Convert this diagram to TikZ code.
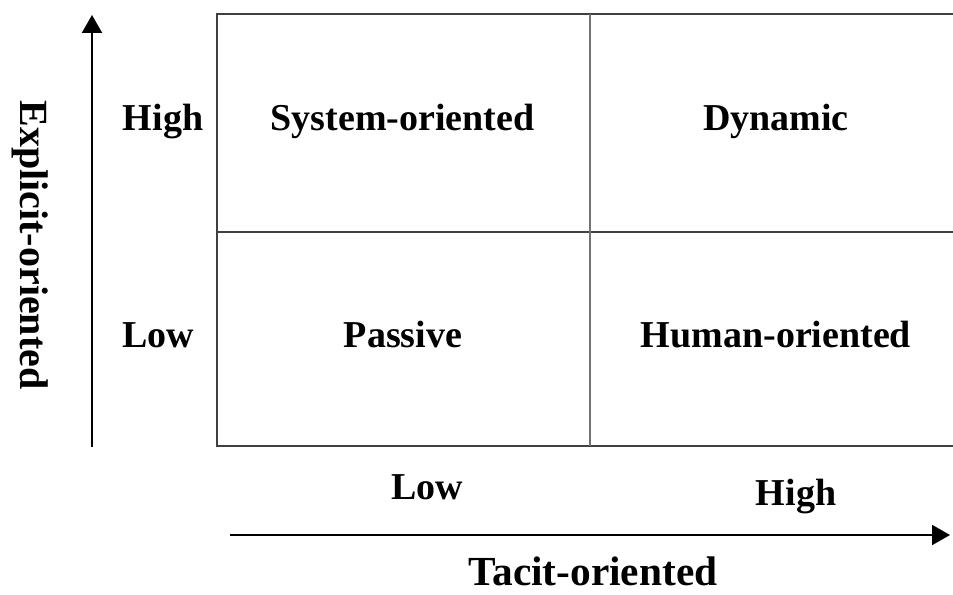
\documentclass[tikz,border=0pt]{standalone}
\usepackage{fontspec}
\setmainfont{Liberation Serif}
\usetikzlibrary{arrows.meta}
\tikzset{
  lbl/.style={font=\fontsize{28.5}{30}\selectfont\bfseries, anchor=base, inner sep=0pt},
  axislbl/.style={font=\fontsize{31}{33}\selectfont\bfseries, inner sep=0pt},
  axisarrow/.style={line width=1.5pt, -{Triangle[length=13.5pt,width=15pt]}},
  gridline/.style={line width=1.1pt, draw=black!75}
}
\begin{document}
\begin{tikzpicture}[x=0.75pt,y=0.75pt,yscale=-1,xscale=1]
\useasboundingbox (0,0) rectangle (953,595);

%Shape: Grid (open at right)
\draw [gridline] (953,14) -- (217,14) -- (217,446) -- (953,446) ;
\draw [gridline] (217,232) -- (953,232) ;
\draw [gridline, draw=black!55, line width=1.4pt] (590,14) -- (590,446) ;

%Axis ends
\coordinate (ybot) at (92,447);
\coordinate (ytop) at (92,15);
\coordinate (xleft) at (230,535);
\coordinate (xright) at (950,535);

%Straight Lines: axes
\draw [axisarrow] (ybot) -- (ytop) ;
\draw [axisarrow] (xleft) -- (xright) ;

% Text Node
\node [lbl] (yhigh) at (163,131) {High};
% Text Node
\node [lbl] (ylow) at (158,347) {Low};
% Text Node
\node [lbl] (sysor) at (402.5,131) {System-oriented};
% Text Node
\node [lbl] (dyn) at (776,131) {Dynamic};
% Text Node
\node [lbl] (pass) at (403,347) {Passive};
% Text Node
\node [lbl] (humor) at (776,347) {Human-oriented};
% Text Node
\node [lbl] (xlow) at (427,499) {Low};
% Text Node
\node [lbl] (xhigh) at (796,505) {High};
% Text Node
\node [axislbl, anchor=base, text depth=0pt] (tacit) at (593,585) {Tacit-oriented};
% Text Node
\node [axislbl, font=\fontsize{30}{32}\selectfont\bfseries, rotate=-90] (explicit) at (30,245) {Explicit-oriented};

\end{tikzpicture}
\end{document}
